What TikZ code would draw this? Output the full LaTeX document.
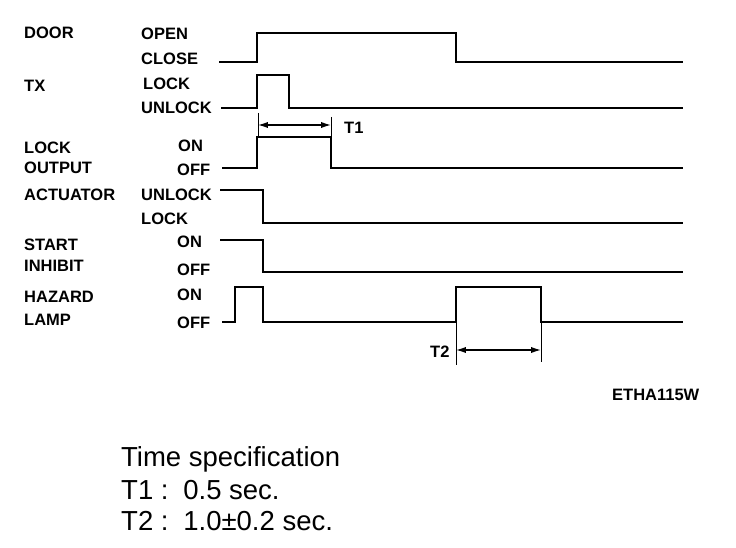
\documentclass[tikz,border=0pt]{standalone}
\usepackage{fontspec}
\setmainfont{Liberation Sans}
\usepackage{tikz}
\usetikzlibrary{arrows.meta}

\begin{document}
\begin{tikzpicture}[
x=1pt, y=-1pt,
font=\fontsize{16.5}{18}\selectfont\bfseries,
sig/.style={anchor=west, inner sep=0pt},
state/.style={anchor=west, inner sep=0pt},
wave/.style={line width=2.4pt, line join=miter},
tick/.style={line width=1pt},
dim/.style={{Latex[length=3.5mm,width=2.2mm]}-{Latex[length=3.5mm,width=2.2mm]}, line width=1.3pt},
spec/.style={anchor=west, inner sep=0pt, font=\fontsize{27.5}{31}\selectfont}
]
\useasboundingbox (0,0) rectangle (736,548);

% signal names
\node[sig] (door) at (24,33) {DOOR};
\node[sig] (tx) at (24,86) {TX};
\node[sig, align=left] (lockout) at (24,158) {LOCK\\[2pt]OUTPUT};
\node[sig] (act) at (24,195) {ACTUATOR};
\node[sig, align=left] (start) at (24,255) {START\\[3pt]INHIBIT};
\node[sig, align=left] (hazard) at (24,308) {HAZARD\\[5pt]LAMP};

% states
\node[state] (open) at (141,34) {OPEN};
\node[state] (close) at (141,59) {CLOSE};
\node[state] (txlock) at (143,84) {LOCK};
\node[state] (txunlock) at (141,108) {UNLOCK};
\node[state] (loon) at (178,146) {ON};
\node[state] (looff) at (177,170) {OFF};
\node[state] (acunlock) at (141,195) {UNLOCK};
\node[state] (aclock) at (141,219) {LOCK};
\node[state] (sion) at (177,242) {ON};
\node[state] (sioff) at (177,270) {OFF};
\node[state] (hlon) at (177,295) {ON};
\node[state] (hloff) at (177,323) {OFF};

% waveforms
\draw[wave] (219,62) -- (257,62) -- (257,33) -- (456,33) -- (456,62) -- (683,62);
\draw[wave] (221,108) -- (257,108) -- (257,75) -- (289,75) -- (289,108) -- (683,108);
\draw[wave] (222,168) -- (257,168) -- (257,137) -- (331,137) -- (331,168) -- (683,168);
\draw[wave] (220,190) -- (263,190) -- (263,223) -- (683,223);
\draw[wave] (220,240) -- (263,240) -- (263,272) -- (683,272);
\draw[wave] (222,322) -- (235,322) -- (235,287) -- (263,287) -- (263,322) -- (456,322)
  -- (456,287) -- (541,287) -- (541,322) -- (683,322);

% T1
\draw[tick] (258,113) -- (258,137);
\draw[tick] (331,117) -- (331,137);
\coordinate (t1a) at (258,125);
\coordinate (t1b) at (331,125);
\draw[dim] (t1a) -- (t1b);
\node[state] (t1) at (344,128) {T1};

% T2
\draw[tick] (456,322) -- (456,365);
\draw[tick] (541,322) -- (541,362);
\coordinate (t2a) at (456,350);
\coordinate (t2b) at (541,350);
\draw[dim] (t2a) -- (t2b);
\node[state] (t2) at (430,352) {T2};

\node[state] (code) at (612,395) {ETHA115W};

% time specification
\node[spec] (tspec) at (121,459) {Time specification};
\node[spec] (t1val) at (121,490) {T1 :\, 0.5 sec.};
\node[spec] (t2val) at (121,521) {T2 :\, 1.0±0.2 sec.};
\end{tikzpicture}
\end{document}
